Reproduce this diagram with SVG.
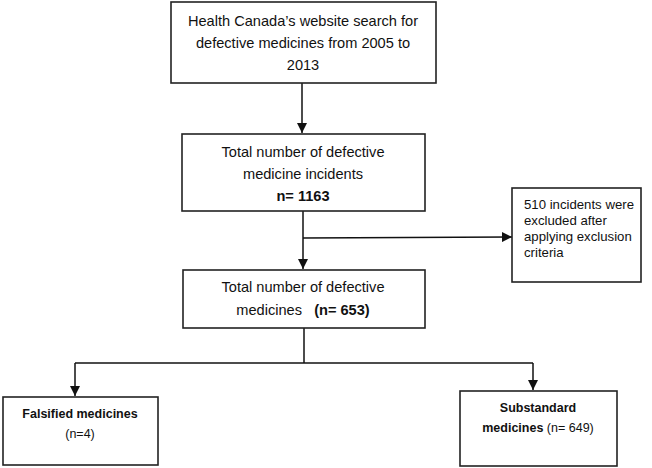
<svg xmlns="http://www.w3.org/2000/svg" width="652" height="468" viewBox="0 0 652 468">
<style>
.box{fill:#fff;stroke:#222;stroke-width:1.6}
.t{font-family:"Liberation Sans",Arial,sans-serif;font-size:14.6px;fill:#111;text-anchor:middle}
.s{font-family:"Liberation Sans",Arial,sans-serif;font-size:13.2px;fill:#111}
.m{font-size:12.5px}
.b{font-weight:bold}
.c{fill:none;stroke:#111;stroke-width:1.5}
</style>
<defs>
<marker id="ah" markerWidth="10" markerHeight="10" refX="10" refY="5" orient="auto" markerUnits="userSpaceOnUse">
<path d="M0,0 L10,5 L0,10 Z" fill="#111"/>
</marker>
</defs>
<g id="connectors">
<line class="c" x1="302" y1="83" x2="302" y2="133" marker-end="url(#ah)"/>
<line class="c" x1="303" y1="211" x2="303" y2="269" marker-end="url(#ah)"/>
<line class="c" x1="303" y1="238" x2="512" y2="237" marker-end="url(#ah)"/>
<line class="c" x1="304" y1="328" x2="304" y2="363"/>
<polyline class="c" points="75,363 533,363"/>
<line class="c" x1="75" y1="363" x2="75" y2="396" marker-end="url(#ah)"/>
<line class="c" x1="533" y1="363" x2="533" y2="390" marker-end="url(#ah)"/>
</g>
<g id="n1">
<rect class="box" x="171" y="2" width="265" height="81"/>
<text class="t" x="303" y="26">Health Canada’s website search for</text>
<text class="t" x="303" y="48">defective medicines from 2005 to</text>
<text class="t" x="303" y="70">2013</text>
</g>
<g id="n2">
<rect class="box" x="182" y="134" width="243" height="77"/>
<text class="t" x="303" y="157">Total number of defective</text>
<text class="t" x="303" y="179">medicine incidents</text>
<text class="t b" x="303" y="201">n= 1163</text>
</g>
<g id="n3">
<rect class="box" x="183" y="270" width="242" height="58"/>
<text class="t" x="303" y="292">Total number of defective</text>
<text class="t" x="303" y="315" xml:space="preserve">medicines   <tspan class="b">(n= 653)</tspan></text>
</g>
<g id="n4">
<rect class="box" x="512" y="188" width="129" height="94"/>
<text class="s" x="524" y="209">510 incidents were</text>
<text class="s" x="524" y="225">excluded after</text>
<text class="s" x="524" y="241">applying exclusion</text>
<text class="s" x="524" y="257">criteria</text>
</g>
<g id="n5">
<rect class="box" x="3" y="397" width="155" height="68"/>
<text class="t b m" x="80" y="418">Falsified medicines</text>
<text class="t m" x="80" y="438">(n=4)</text>
</g>
<g id="n6">
<rect class="box" x="460" y="391" width="157" height="75"/>
<text class="t b m" x="538" y="412">Substandard</text>
<text class="t m" x="538" y="432"><tspan class="b">medicines</tspan> (n= 649)</text>
</g>
</svg>
